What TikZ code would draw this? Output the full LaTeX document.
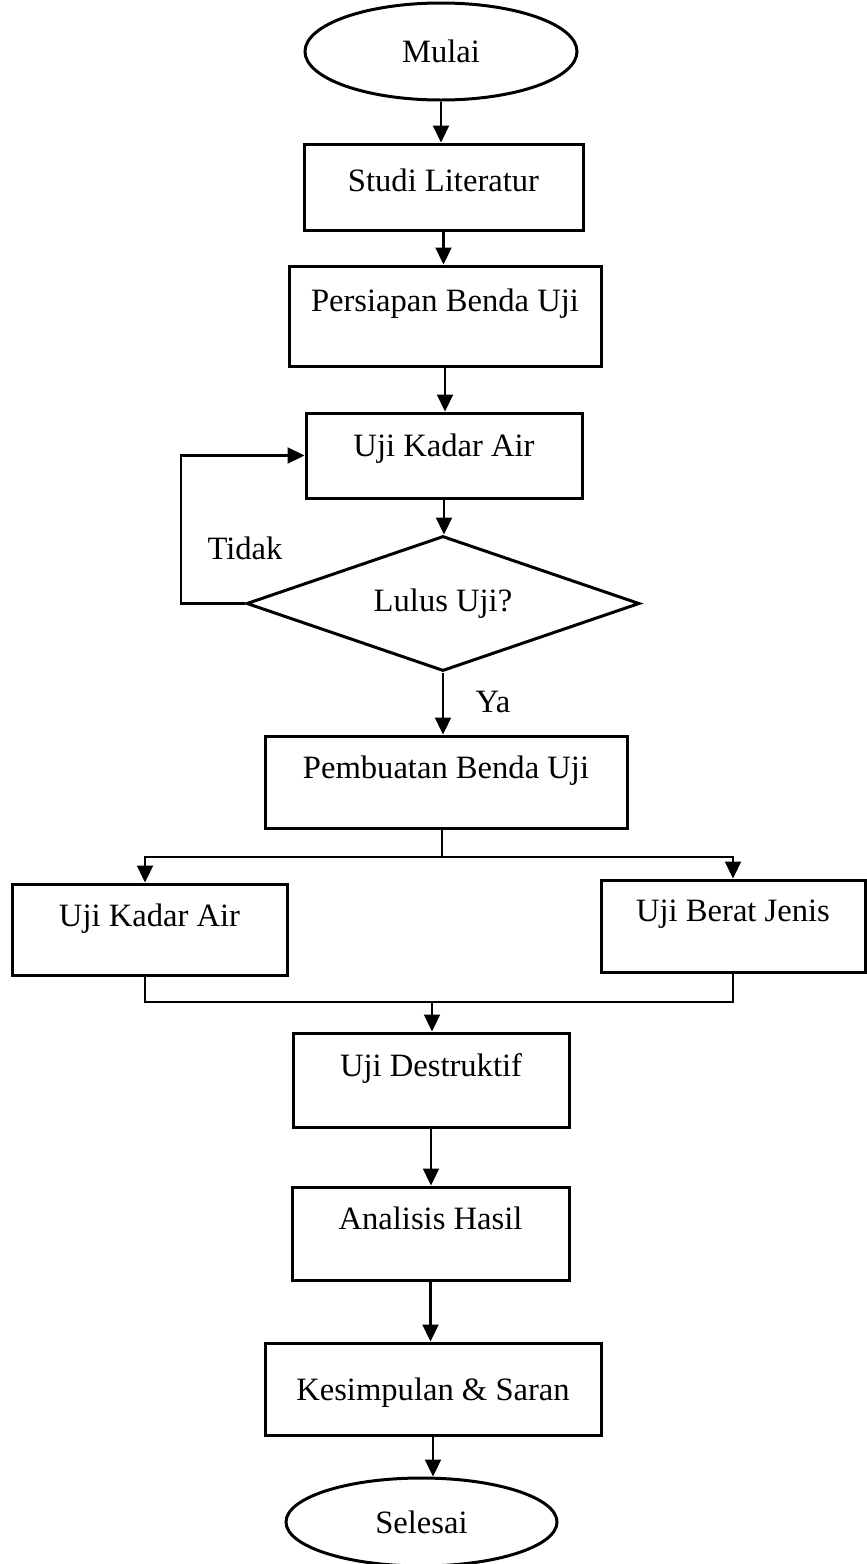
\documentclass[tikz,border=0pt]{standalone}
\usepackage{fontspec}
\setmainfont{Liberation Serif}
\usetikzlibrary{arrows.meta, shapes.geometric}

\tikzset{
  proses/.style={draw, rectangle, line width=3pt, inner sep=0pt, text height=22pt},
  terminal/.style={draw, ellipse, line width=3pt, inner sep=0pt},
  keputusan/.style={draw, diamond, aspect=2.9, line width=3pt, inner sep=0pt},
  arus/.style={-{Triangle[length=17pt,width=16pt]}, line width=2.2pt},
  garis/.style={line width=2.2pt}
}

\begin{document}
\begin{tikzpicture}[x=1pt,y=1pt,font=\fontsize{32.6}{39}\selectfont]
\useasboundingbox (0,0) rectangle (867,-1564);

\node[terminal, minimum width=272pt, minimum height=97pt] (mulai) at (441,-51.5) {Mulai};
\node[proses, minimum width=279pt, minimum height=86pt, text depth=14pt] (studi) at (443.5,-187) {Studi Literatur};
\node[proses, minimum width=312pt, minimum height=100pt, text depth=32pt] (siap) at (445,-316) {Persiapan Benda Uji};
\node[proses, minimum width=276pt, minimum height=85pt, text depth=20pt] (kadar) at (444,-455.5) {Uji Kadar Air};
\node[keputusan, minimum width=393pt, minimum height=135pt] (lulus) at (443,-603.5) {Lulus Uji?};
\node (tidak) at (245,-548) {Tidak};
\node (ya) at (493,-702) {Ya};
\node[proses, minimum width=362pt, minimum height=92pt, text depth=30pt] (buat) at (446,-782) {Pembuatan Benda Uji};
\node[proses, minimum width=275pt, minimum height=91pt, text depth=29pt] (kadar2) at (149.5,-929.5) {Uji Kadar Air};
\node[proses, minimum width=264pt, minimum height=92pt, text depth=32pt] (berat) at (733,-926) {Uji Berat Jenis};
\node[proses, minimum width=276pt, minimum height=94pt, text depth=30pt] (rusak) at (431,-1080) {Uji Destruktif};
\node[proses, minimum width=277pt, minimum height=93pt, text depth=31pt] (analisis) at (430.5,-1233.5) {Analisis Hasil};
\node[proses, minimum width=336pt, minimum height=92pt, text depth=0pt] (simpul) at (433,-1389) {Kesimpulan \& Saran};
\node[terminal, minimum width=271pt, minimum height=88pt] (selesai) at (421.5,-1522) {Selesai};

\coordinate (cabang) at (442,-857);
\coordinate (gabung) at (432,-1002);

\draw[arus] (mulai) -- (mulai |- studi.north);
\draw[arus] (studi) -- (studi |- siap.north);
\draw[arus] (siap) -- (siap |- kadar.north);
\draw[arus] (kadar) -- (kadar |- lulus.north);
\draw[arus] (lulus.west) -- ++(-64,0) |- (kadar.west);
\draw[arus] (lulus.south) -- (lulus.south |- buat.north);
\draw[garis] (cabang |- buat.south) -- (cabang);
\draw[arus] (cabang) -| ([xshift=-4.5pt]kadar2.north);
\draw[arus] (cabang) -| (berat.north);
\draw[garis] ([xshift=-4.5pt]kadar2.south) |- (gabung) -| (berat.south);
\draw[arus] (gabung) -- (gabung |- rusak.north);
\draw[arus] (rusak) -- (rusak |- analisis.north);
\draw[arus] (analisis) -- (analisis |- simpul.north);
\draw[arus] (simpul) -- (simpul |- selesai.north);
\end{tikzpicture}
\end{document}
